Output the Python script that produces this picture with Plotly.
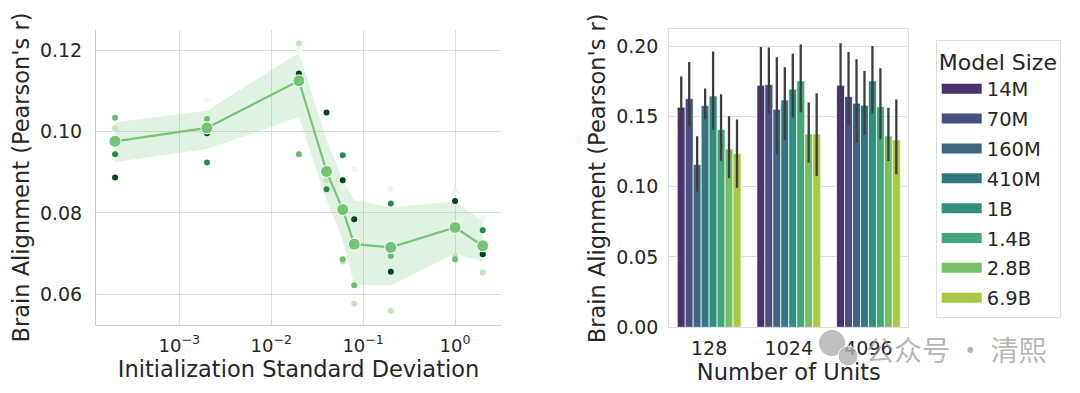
import colorsys
import plotly.graph_objects as go
from plotly.colors import sample_colorscale

# ---------------- data: left panel ----------------
init_std = [2e-4, 2e-3, 2e-2, 4e-2, 6e-2, 8e-2, 0.2, 1.0, 2.0]
mean_r = [0.0976, 0.1009, 0.1125, 0.0902, 0.0808, 0.0723, 0.0715, 0.0764, 0.0719]
ci_low = [0.0925, 0.0957, 0.1035, 0.0831, 0.0733, 0.0623, 0.0621, 0.0700, 0.0680]
ci_high = [0.1023, 0.1051, 0.1194, 0.0979, 0.0880, 0.0831, 0.0814, 0.0828, 0.0779]
# individual runs (5 seeds, light -> dark)
seed0 = [0.1007, 0.1078, 0.1201, 0.0885, 0.0862, 0.0907, 0.0859, 0.0852, 0.0788]
seed1 = [0.1008, 0.1016, 0.1217, 0.0880, 0.0680, 0.0576, 0.0559, 0.0694, 0.0653]
seed2 = [0.1034, 0.1031, 0.0944, 0.0905, 0.0686, 0.0622, 0.0694, 0.0686, 0.0699]
seed3 = [0.0944, 0.0924, 0.1120, 0.0858, 0.0942, 0.0726, 0.0823, 0.0759, 0.0757]
seed4 = [0.0887, 0.0996, 0.1143, 0.1047, 0.0880, 0.0784, 0.0655, 0.0829, 0.0698]
seeds = [seed0, seed1, seed2, seed3, seed4]
seed_colors = ["#eef8ea", "#c2e6bb", "#6cbf6f", "#258c47", "#05441c"]

x_tickvals = [1e-3, 1e-2, 1e-1, 1.0]
x_ticktext = ["10<sup>−3</sup>", "10<sup>−2</sup>", "10<sup>−1</sup>", "10<sup>0</sup>"]
left_yticks = [0.06, 0.08, 0.10, 0.12]

# ---------------- data: right panel ----------------
units = ["128", "1024", "4096"]
model_sizes = ["14M", "70M", "160M", "410M", "1B", "1.4B", "2.8B", "6.9B"]
bar_vals = {
    "14M":  [0.1565, 0.1721, 0.1721],
    "70M":  [0.1626, 0.1726, 0.1641],
    "160M": [0.1157, 0.1550, 0.1593],
    "410M": [0.1577, 0.1617, 0.1579],
    "1B":   [0.1645, 0.1693, 0.1752],
    "1.4B": [0.1406, 0.1752, 0.1569],
    "2.8B": [0.1268, 0.1375, 0.1361],
    "6.9B": [0.1235, 0.1375, 0.1332],
}
err_hi = {
    "14M":  [0.1783, 0.1994, 0.2020],
    "70M":  [0.1887, 0.1989, 0.1958],
    "160M": [0.1358, 0.1920, 0.1906],
    "410M": [0.1698, 0.1849, 0.1823],
    "1B":   [0.1961, 0.1946, 0.2001],
    "1.4B": [0.1657, 0.2011, 0.1842],
    "2.8B": [0.1500, 0.1598, 0.1562],
    "6.9B": [0.1477, 0.1664, 0.1619],
}
err_lo = {
    "14M":  [0.1380, 0.1486, 0.1480],
    "70M":  [0.1430, 0.1522, 0.1439],
    "160M": [0.0965, 0.1230, 0.1313],
    "410M": [0.1480, 0.1332, 0.1368],
    "1B":   [0.1404, 0.1491, 0.1522],
    "1.4B": [0.1185, 0.1529, 0.1337],
    "2.8B": [0.1060, 0.1171, 0.1183],
    "6.9B": [0.0993, 0.1076, 0.1088],
}
right_yticks = [0.00, 0.05, 0.10, 0.15, 0.20]


def desaturate(rgb_str, prop=0.75):
    r, g, b = [int(float(v)) / 255 for v in rgb_str[rgb_str.index("(") + 1:-1].split(",")]
    h, l, s = colorsys.rgb_to_hls(r, g, b)
    r, g, b = colorsys.hls_to_rgb(h, l, s * prop)
    return "#%02x%02x%02x" % (round(r * 255), round(g * 255), round(b * 255))


n = len(model_sizes)
bar_colors = [desaturate(c) for c in sample_colorscale("Viridis", [(i + 1) / (n + 1) for i in range(n)])]

TEXT = "#262626"
GRID = "#dcdcdc"
FONT = "DejaVu Sans"
line_green = "#74c476"
TICK = 19
TITLE = 22.5

fig = go.Figure()

# CI band
fig.add_trace(go.Scatter(x=init_std, y=ci_high, mode="lines", line=dict(width=0),
                         showlegend=False, hoverinfo="skip", xaxis="x", yaxis="y"))
fig.add_trace(go.Scatter(x=init_std, y=ci_low, mode="lines", line=dict(width=0),
                         fill="tonexty", fillcolor="rgba(116,196,118,0.22)",
                         showlegend=False, hoverinfo="skip", xaxis="x", yaxis="y"))
# seeds
for vals, col in zip(seeds, seed_colors):
    fig.add_trace(go.Scatter(x=init_std, y=vals, mode="markers",
                             marker=dict(size=6, color=col, line=dict(width=0)),
                             showlegend=False, xaxis="x", yaxis="y"))
# mean line
fig.add_trace(go.Scatter(x=init_std, y=mean_r, mode="lines+markers",
                         line=dict(color=line_green, width=2.2),
                         marker=dict(size=12, color=line_green, line=dict(color="white", width=1)),
                         showlegend=False, xaxis="x", yaxis="y"))

# bars
for i, m in enumerate(model_sizes):
    ey_plus = [h - v for h, v in zip(err_hi[m], bar_vals[m])]
    ey_minus = [v - l for v, l in zip(bar_vals[m], err_lo[m])]
    fig.add_trace(go.Bar(x=units, y=bar_vals[m], name=m, legendgroup=m,
                         marker=dict(color=bar_colors[i], line=dict(color="rgba(255,255,255,0.7)", width=1)),
                         error_y=dict(type="data", array=ey_plus, arrayminus=ey_minus,
                                      color="#3d3d3d", thickness=2.3, width=0),
                         showlegend=False, xaxis="x2", yaxis="y2"))
    # legend entry with wide swatch
    fig.add_trace(go.Scatter(x=[None], y=[None], mode="lines", name=m, legendgroup=m,
                             line=dict(color=bar_colors[i], width=14),
                             showlegend=True, xaxis="x2", yaxis="y2"))

fig.update_layout(
    width=1080, height=393,
    margin=dict(l=0, r=0, t=0, b=0, autoexpand=False),
    paper_bgcolor="white", plot_bgcolor="white",
    font=dict(family=FONT, size=TICK, color=TEXT),
    barmode="group", bargap=0.2, bargroupgap=0,
    xaxis=dict(domain=[0.0815, 0.4565], type="log", range=[-3.906, 0.5],
               tickvals=x_tickvals, ticktext=x_ticktext, showgrid=True, gridcolor=GRID,
               showline=True, linecolor="#cccccc", linewidth=1, zeroline=False, ticks="",
               tickfont=dict(size=18), ticklabelstandoff=4, automargin=False,
               title=dict(text="Initialization Standard Deviation", font=dict(size=TITLE), standoff=2)),
    yaxis=dict(domain=[0.1934, 0.944], range=[0.0524, 0.125], tickvals=left_yticks,
               tickformat=".2f", showgrid=True, gridcolor=GRID, showline=True, linecolor="#cccccc",
               linewidth=1, zeroline=False, ticks="", tickfont=dict(size=TICK), ticklabelstandoff=9,
               automargin=False,
               title=dict(text="Brain Alignment (Pearson's r)", font=dict(size=TITLE), standoff=4)),
    xaxis2=dict(domain=[0.6123, 0.8336], type="category", showgrid=False, showline=True,
                linecolor="#dcdcdc", mirror=True, ticks="", tickfont=dict(size=TICK),
                ticklabelstandoff=4, anchor="y2", automargin=False,
                title=dict(text="Number of Units", font=dict(size=TITLE), standoff=2)),
    yaxis2=dict(domain=[0.1875, 0.9458], anchor="x2", range=[0, 0.2119], tickvals=right_yticks,
                tickformat=".2f", showgrid=True, gridcolor=GRID, showline=True, linecolor="#dcdcdc",
                mirror=True, zeroline=False, ticks="", tickfont=dict(size=TICK), ticklabelstandoff=6,
                automargin=False,
                title=dict(text="Brain Alignment (Pearson's r)", font=dict(size=TITLE), standoff=4)),
    legend=dict(x=0.859, y=0.9186, xanchor="left", yanchor="top", traceorder="grouped",
                tracegroupgap=1.5,
                bordercolor="#dddddd", borderwidth=1, bgcolor="white",
                font=dict(size=19.5), itemwidth=40,
                title=dict(text="Model Size", font=dict(size=22))),
)

# watermark
fig.add_shape(type="circle", xref="paper", yref="paper", x0=0.751, x1=0.775, y0=0.1146, y1=0.1807,
              fillcolor="rgba(175,175,175,0.8)", line=dict(width=0))
fig.add_shape(type="circle", xref="paper", yref="paper", x0=0.7685, x1=0.787, y0=0.089, y1=0.140,
              fillcolor="rgba(175,175,175,0.8)", line=dict(color="white", width=1))
fig.add_annotation(text="公众号 · 清熙", xref="paper", yref="paper", x=0.8778, y=0.1323,
                   xanchor="center", yanchor="middle",
                   showarrow=False, font=dict(family="Noto Sans CJK SC", size=28,
                                               color="rgba(150,150,150,0.7)"))

fig.write_html("out.html")
